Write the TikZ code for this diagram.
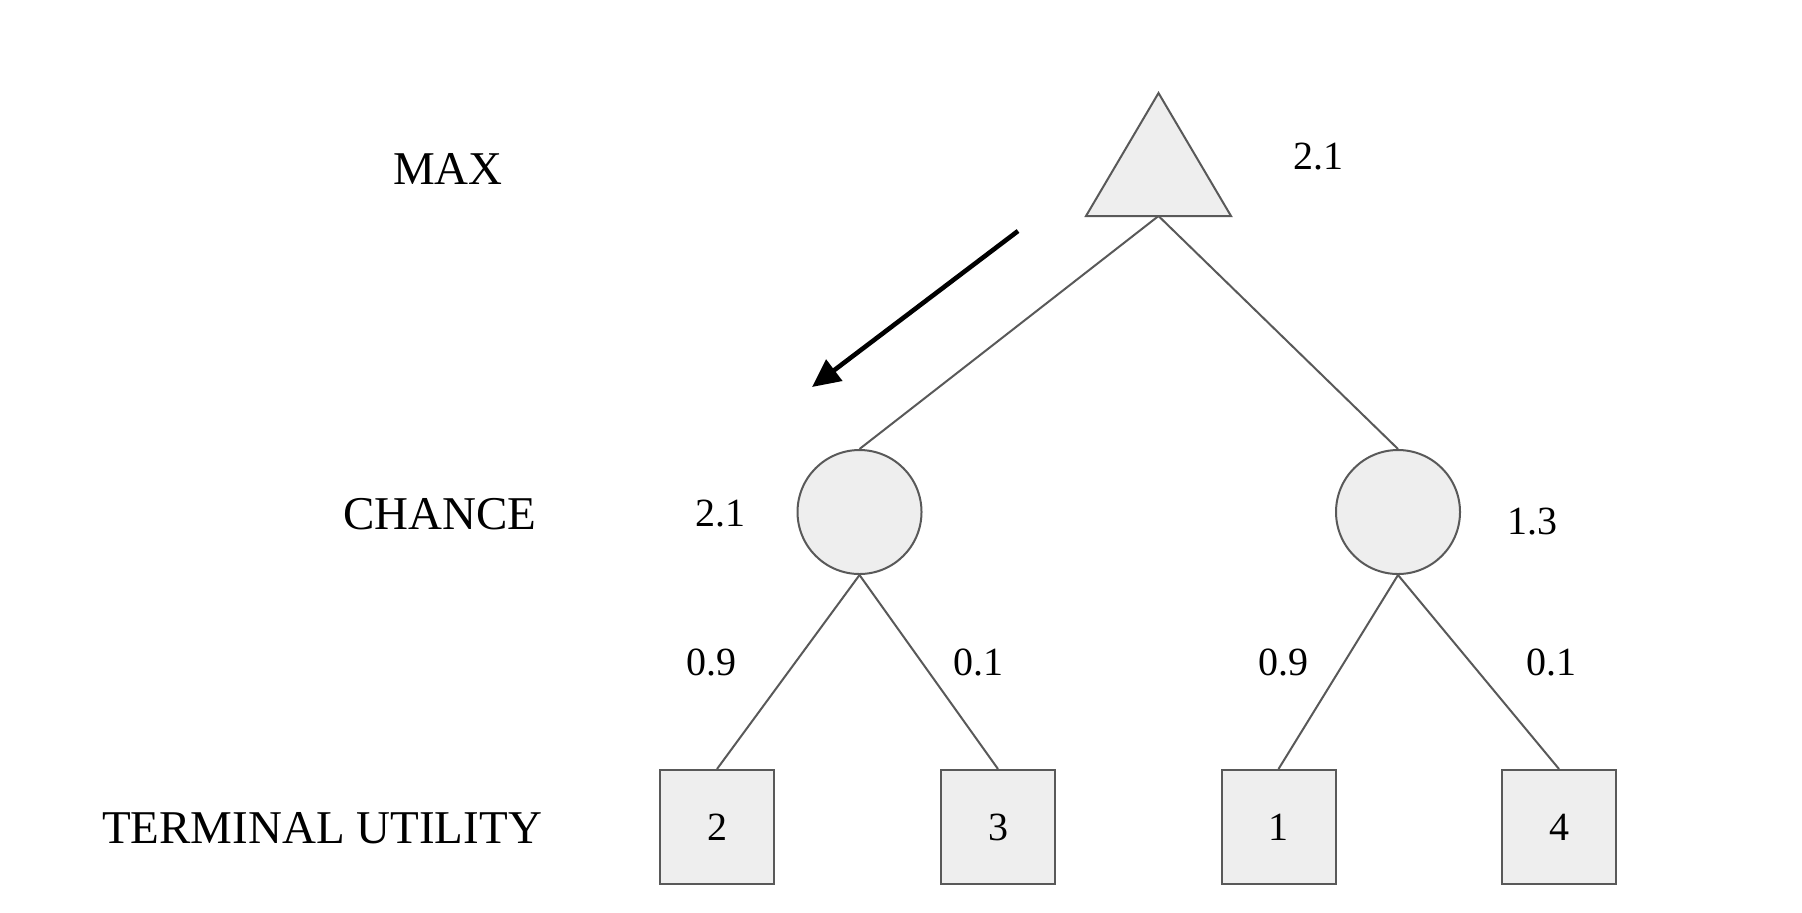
\documentclass[tikz,border=0pt]{standalone}
\usepackage{fontspec}
\setmainfont{Liberation Serif}
\usetikzlibrary{arrows.meta}
\definecolor{edgegray}{HTML}{595959}
\definecolor{nodefill}{HTML}{EEEEEE}
\tikzset{
  lvl/.style={inner sep=0pt, font=\fontsize{23.5}{28}\selectfont},
  num/.style={inner sep=0pt, font=\fontsize{20}{24}\selectfont},
  chancenode/.style={circle, draw=edgegray, fill=nodefill, line width=1pt, minimum size=62pt, inner sep=0pt},
  termnode/.style={rectangle, draw=edgegray, fill=nodefill, line width=1pt, minimum size=57pt, inner sep=0pt, font=\fontsize{20}{24}\selectfont},
  treeedge/.style={draw=edgegray, line width=1pt},
  bigarrow/.style={draw=black, line width=2.3pt, -{Triangle[length=14pt,width=13pt]}}
}
\begin{document}
\begin{tikzpicture}[x=0.5pt,y=-0.5pt]
\useasboundingbox (0,0) rectangle (1802,912);
% level labels
\node[lvl] (lmax) at (448,169) {MAX};
\node[lvl] (lchance) at (440,514) {CHANCE};
\node[lvl] (lterm) at (322,828) {TERMINAL UTILITY};
% max node (triangle)
\coordinate (maxtop) at (1158.5,93);
\coordinate (maxbl) at (1086,216);
\coordinate (maxbr) at (1231,216);
\coordinate (maxbot) at (1158.5,216);
\draw[draw=edgegray, fill=nodefill, line width=1pt, line join=miter] (maxtop) -- (maxbl) -- (maxbr) -- cycle;
% chance nodes
\node[chancenode] (c1) at (859.5,512) {};
\node[chancenode] (c2) at (1398,512) {};
% terminal nodes
\node[termnode] (t1) at (717,827) {2};
\node[termnode] (t2) at (998,827) {3};
\node[termnode] (t3) at (1278.5,827) {1};
\node[termnode] (t4) at (1559,827) {4};
% edges
\draw[treeedge] (maxbot) -- (c1.north);
\draw[treeedge] (maxbot) -- (c2.north);
\draw[treeedge] (c1.south) -- (t1.north);
\draw[treeedge] (c1.south) -- (t2.north);
\draw[treeedge] (c2.south) -- (t3.north);
\draw[treeedge] (c2.south) -- (t4.north);
% values
\node[num] (vmax) at (1318,157) {2.1};
\node[num] (vc1) at (720,514) {2.1};
\node[num] (vc2) at (1532,522) {1.3};
% probabilities
\node[num] (p1) at (711,662) {0.9};
\node[num] (p2) at (978,662) {0.1};
\node[num] (p3) at (1283,662) {0.9};
\node[num] (p4) at (1551,662) {0.1};
% arrow
\coordinate (arrs) at (1018,231);
\coordinate (arre) at (812,387);
\draw[bigarrow] (arrs) -- (arre);
\end{tikzpicture}
\end{document}
